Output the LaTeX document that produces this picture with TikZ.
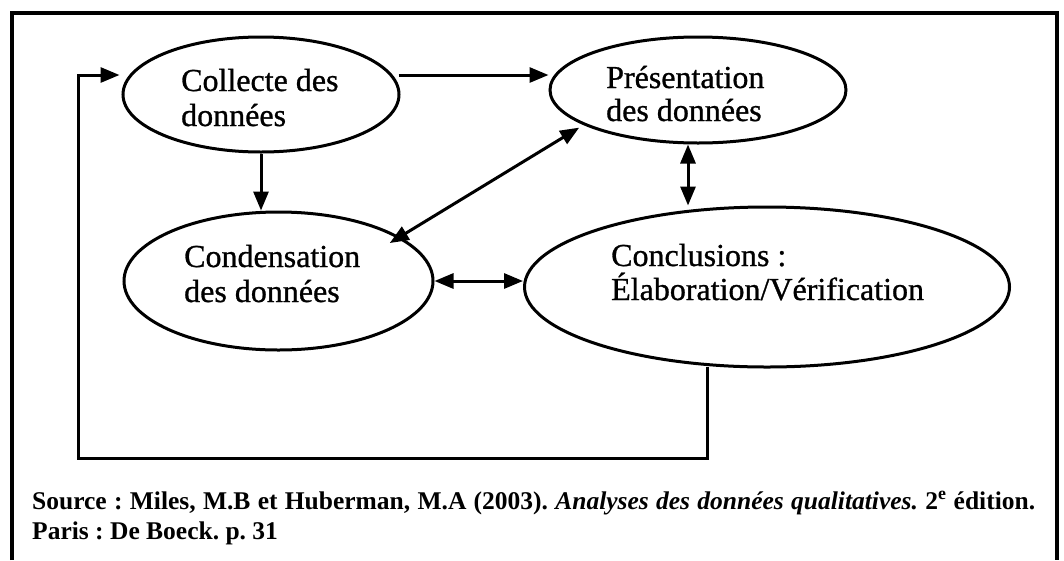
\documentclass[tikz,border=0pt]{standalone}
\usepackage{fontspec}
\setmainfont{Liberation Serif}
\newfontfamily\heavyserif{Liberation Serif}[FakeBold=0.9]
\usetikzlibrary{arrows.meta,calc,shapes.geometric}
\frenchspacing
\begin{document}
\begin{tikzpicture}[x=1pt,y=-1pt,
  ell/.style={draw,ellipse,line width=3pt,inner sep=0pt},
  lbl/.style={font=\heavyserif\fontsize{32}{36}\selectfont,anchor=base west,inner sep=0pt},
  captext/.style={font=\bfseries\fontsize{25.5}{30}\selectfont,anchor=base west,inner sep=0pt},
  conn/.style={line width=3pt,line join=miter},
  tip/.style={-{Triangle[length=19pt,width=15pt]}},
  dtip/.style={{Triangle[length=19pt,width=15pt]}-{Triangle[length=19pt,width=15pt]}}]
\useasboundingbox (0,0) rectangle (1064,560);
% frame
\draw[line width=3.4pt] (12,560) -- (12,13) -- (1057,13) -- (1057,560);
% ellipses
\node[ell,minimum width=276pt,minimum height=115pt] (coll) at (261,94.5) {};
\node[ell,minimum width=296pt,minimum height=106pt] (pres) at (698,90) {};
\node[ell,minimum width=309pt,minimum height=138pt] (cond) at (278.5,281) {};
\node[ell,minimum width=485pt,minimum height=160pt] (conc) at (767,287) {};
% texts
\node[lbl] (coll1) at (181,91) {Collecte des};
\node[lbl] (coll2) at (181,126) {données};
\node[lbl] (pres1) at (606,88) {Présentation};
\node[lbl] (pres2) at (606,121) {des données};
\node[lbl] (cond1) at (184,267) {Condensation};
\node[lbl] (cond2) at (184,302) {des données};
\node[lbl] (conc1) at (611,266) {Conclusions :};
\node[lbl] (conc2) at (611,300) {Élaboration/Vérification};
% connectors
\draw[conn,tip] ($(coll.east)+(-2,-19.5)$) -- ($(pres.west)+(0,-15)$);
\draw[conn,tip] (coll.south) -- (coll.south |- cond.north);
\draw[conn,dtip,shorten <=-12pt,shorten >=5pt] (cond.20) -- (pres.197);
\coordinate (pv) at ($(pres.south)+(-10,0)$);
\coordinate (cv) at (pv |- conc.north);
\draw[conn,dtip] (pv) -- (cv);
\draw[conn,dtip] (cond.east) -- (cond.east -| conc.west);
\coordinate (fb) at (78,458);
\coordinate (fbend) at ($(coll.west)+(-2,-19.5)$);
\coordinate (fbstart) at ($(conc.south)+(-60,-2)$);
\draw[conn,tip] (fbstart) |- (fb) |- (fbend);
% caption
\node[captext] (cap1) at (32,509) {\makebox[1003pt][s]{Source : Miles, M.B et Huberman, M.A (2003). \textit{Analyses des données qualitatives.} 2\textsuperscript{e} édition.}};
\node[captext] (cap2) at (32,539) {Paris : De Boeck. p. 31};
\end{tikzpicture}
\end{document}
